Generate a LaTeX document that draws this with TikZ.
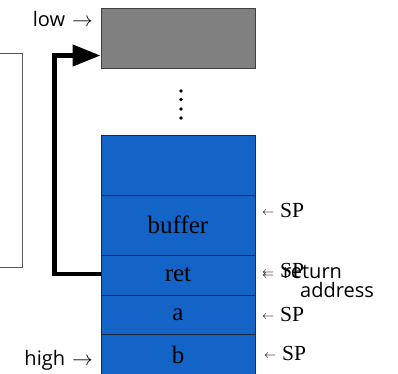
\documentclass[tikz,border=0pt]{standalone}
\usepackage{fontspec}
\setmainfont{Liberation Serif}
\newfontfamily\labelfont{Open Sans}
\usetikzlibrary{arrows.meta}
\definecolor{stackblue}{HTML}{1464C8}
\definecolor{stackedge}{HTML}{1A2A40}
\begin{document}
\begin{tikzpicture}[x=1pt,y=-1pt,
  blockbox/.style={draw=stackedge,line width=1pt,fill=stackblue,minimum width=154pt,inner sep=0pt,
    font=\fontsize{25}{25}\selectfont},
  topbox/.style={draw=black!75,line width=1pt,fill=black!50,minimum width=154pt,minimum height=60pt,inner sep=0pt},
  sidelabel/.style={anchor=base west,inner sep=0pt,font=\fontsize{21.5}{21.5}\selectfont},
  endlabel/.style={anchor=base east,inner sep=0pt,font=\labelfont\fontsize{20}{20}\selectfont},
  link/.style={line width=4.5pt,-{Triangle[length=28pt,width=21pt]}},
  frameline/.style={draw=black!65,line width=1pt},
  dotmark/.style={fill=black}]
\useasboundingbox (0,0) rectangle (398,373);
\newcommand{\smallarr}{\raisebox{1.5pt}{\fontsize{13}{13}\selectfont$\leftarrow$}}
% left frame
\draw[frameline] (-5,53) -| (22,267) -- (-5,267);
% top (low) box
\node[topbox] (lowbox) at (178,38) {};
% dots
\foreach \yy in {91,99.5,109,118} \fill[dotmark] (181,\yy) circle (1.8pt);
% stack
\node[blockbox,minimum height=60pt] (free) at (178,165) {};
\node[blockbox,minimum height=60pt] (buffer) at (178,225) {buffer};
\node[blockbox,minimum height=40pt] (ret) at (178,275) {ret};
\node[blockbox,minimum height=39pt] (a) at (178,314.5) {a};
\node[blockbox,minimum height=42pt] (b) at (178,355) {b};
% connector
\coordinate (tgt) at ([yshift=13pt]lowbox.south west);
\draw[link] ([yshift=1pt]ret.west) -- ++(-46,0) |- (tgt);
% SP labels
\node[sidelabel] (sp1) at (262,217) {\smallarr\hspace{6pt}SP};
\node[sidelabel] (sp2) at (262,277) {\smallarr\hspace{6pt}SP};
\node[sidelabel] (sp3) at (262,321) {\smallarr\hspace{6pt}SP};
\node[sidelabel] (sp4) at (264,360) {\smallarr\hspace{6pt}SP};
% return address
\node[anchor=base west,inner sep=0pt] (retaddr) at (262,278.5)
  {\begin{tabular}[t]{@{}l@{}}\raisebox{-1pt}{\smallarr}\hspace{9pt}{\labelfont\fontsize{20}{20}\selectfont return}\\
   \hspace*{38pt}{\labelfont\fontsize{20}{20}\selectfont address}\end{tabular}};
% low / high
\node[endlabel] (low) at (93,26) {low\hspace{7pt}$\rightarrow$};
\node[endlabel] (high) at (93,365) {high\hspace{7pt}$\rightarrow$};
\end{tikzpicture}
\end{document}
